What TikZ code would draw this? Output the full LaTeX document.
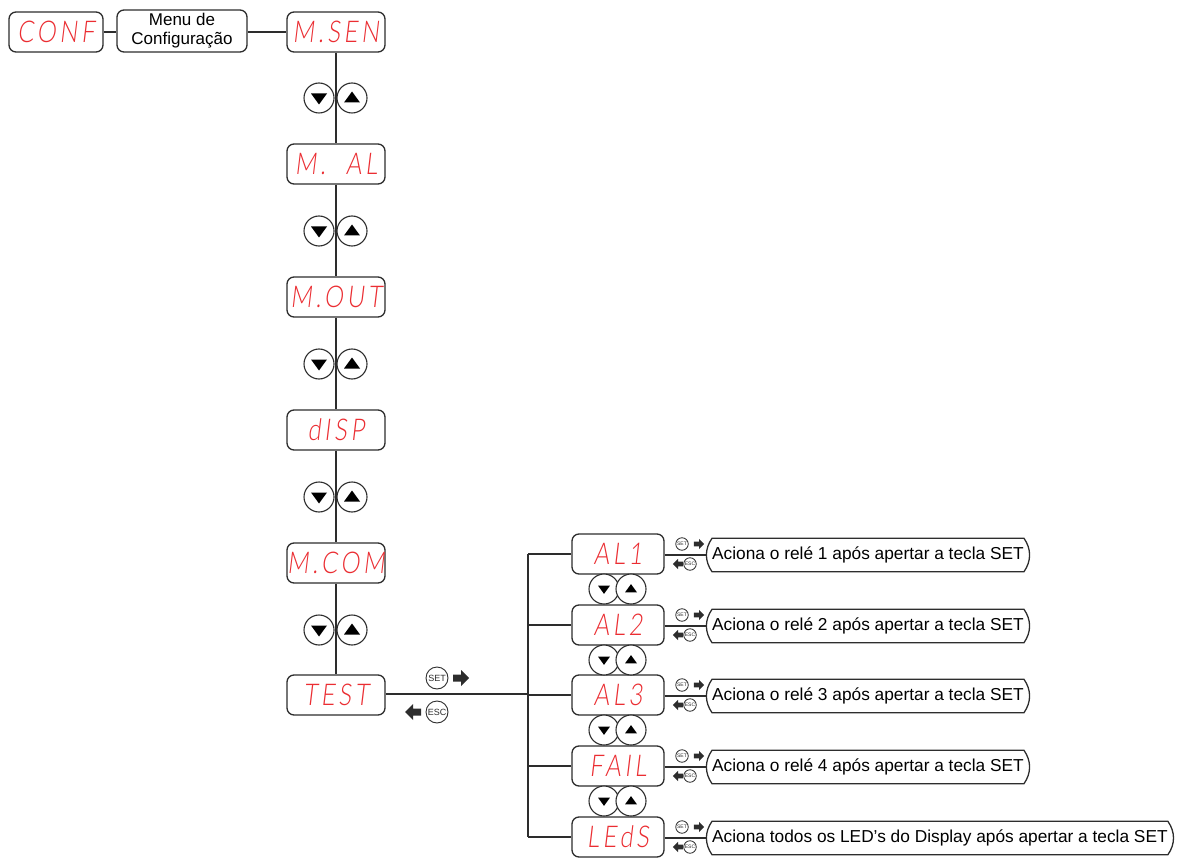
\documentclass[tikz,border=0pt]{standalone}
\usepackage{fontspec}
\setmainfont{Liberation Sans}
\newfontfamily\segfont[FakeSlant=0.12,FakeStretch=0.8,LetterSpace=12]{Lato Light}
\usetikzlibrary{calc}
\definecolor{segred}{RGB}{235,45,50}
\definecolor{ln}{RGB}{45,45,45}
\begin{document}
\begin{tikzpicture}[x=1pt,y=-1pt,
  disp/.style={draw=ln, fill=white, line width=1.3pt, rounded corners=7pt, minimum width=98pt, minimum height=40pt, inner sep=0pt, text=segred, font=\segfont\fontsize{30}{30}\selectfont},
  subdisp/.style={disp, minimum width=92pt},
  menubox/.style={draw=ln, line width=1.3pt, rounded corners=7pt, minimum width=130pt, minimum height=42pt, inner sep=0pt, align=center, font=\fontsize{17}{19}\selectfont},
  txt/.style={anchor=west, inner xsep=3pt, inner ysep=0pt, minimum height=33pt, font=\fontsize{17.3}{19}\selectfont},
  conn/.style={draw=ln, line width=1.3pt},
  btnc/.style={circle, draw=ln, fill=white, line width=1.1pt, minimum size=#1, inner sep=0pt},
  keyc/.style={circle, draw=ln, fill=white, line width=0.9pt, minimum size=#1, inner sep=0pt, text=ln},
  pics/dnbtn/.style={code={\node[btnc=30pt] (-c) {}; \fill[black] (-8,-4.5) -- (8,-4.5) -- (0,6.5) -- cycle;}},
  pics/upbtn/.style={code={\node[btnc=30pt] (-c) {}; \fill[black] (-8,4.5) -- (8,4.5) -- (0,-6.5) -- cycle;}},
  pics/blk/.style={code={\fill[ln] (-8,-3.5) -- (0,-3.5) -- (0,-8) -- (8,0) -- (0,8) -- (0,3.5) -- (-8,3.5) -- cycle;}},
]
\useasboundingbox (0,0) rectangle (1177,858);

% top row
\node[disp, minimum width=94pt] (conf) at (56,32) {CONF};
\node[menubox] (menu) at (182,31) {Menu de\\Configuração};
\node[disp] (msen) at (336,32) {M.SEN};
\coordinate (rowy) at (0,32);
\draw[conn] (conf.east |- rowy) -- (menu.west |- rowy);
\draw[conn] (menu.east |- rowy) -- (msen.west |- rowy);

% main column
\node[disp] (mal) at (336,164) {M.\hspace{20pt}AL};
\node[disp] (mout) at (336,297) {M.OUT};
\node[disp] (disp) at (336,430) {dISP};
\node[disp] (mcom) at (336,563) {M.COM};
\node[disp] (test) at (336,695) {TEST};
\draw[conn] (msen.south) -- (mal.north);
\draw[conn] (mal.south) -- (mout.north);
\draw[conn] (mout.south) -- (disp.north);
\draw[conn] (disp.south) -- (mcom.north);
\draw[conn] (mcom.south) -- (test.north);

\foreach \y/\n in {98/a,231/b,364/c,497/d,630/e}{
  \pic (dn\n) at (319,\y) {dnbtn};
  \pic (up\n) at (352,\y) {upbtn};
}

% branch
\coordinate (br) at (528,694);
\coordinate (brtop) at (528,554);
\coordinate (brbot) at (528,837);
\draw[conn] (test.east |- br) -- (br);
\draw[conn] (brtop) -- (brbot);

\node[keyc=22pt, font=\fontsize{9}{9}\selectfont] (setm) at (437,678) {SET};
\pic at (461,678) {blk};
\node[keyc=22pt, font=\fontsize{9}{9}\selectfont] (escm) at (437,712) {ESC};
\pic[rotate=180] at (413,712) {blk};

% sub column
\foreach \y/\t/\n in {554/AL1/s1, 625/AL2/s2, 695/AL3/s3, 766/FAIL/s4, 837/LEdS/s5}{
  \node[subdisp] (\n) at (618,\y) {\t};
  \draw[conn] (brtop |- \n.west) -- (\n.west);
  \coordinate (j\n) at (707,\y+1);
  \draw[conn] (\n.east |- j\n) -- (j\n);
  \node[keyc=12.5pt, line width=0.8pt, font=\fontsize{5}{5}\selectfont] (set\n) at (682,\y-10) {SET};
  \pic[scale=0.65] at (699,\y-10) {blk};
  \node[keyc=12.5pt, line width=0.8pt, font=\fontsize{5}{5}\selectfont] (esc\n) at (690,\y+10) {ESC};
  \pic[scale=0.65, rotate=180] at (678,\y+10) {blk};
}

\foreach \y/\n in {589/a,660/b,730/c,801/d}{
  \pic[scale=0.75] (sdn\n) at (604,\y) {dnbtn};
  \pic[scale=0.75] (sup\n) at (631,\y) {upbtn};
}

% text boxes
\foreach \n/\t in {s1/{Aciona o relé 1 após apertar a tecla SET}, s2/{Aciona o relé 2 após apertar a tecla SET}, s3/{Aciona o relé 3 após apertar a tecla SET}, s4/{Aciona o relé 4 após apertar a tecla SET}, s5/{Aciona todos os LED’s do Display após apertar a tecla SET}}{
  \node[txt] (t\n) at ($(j\n)+(2,0)$) {\t};
  \draw[ln, line width=1.3pt] ($(t\n.north west)+(3,0)$) -- ($(t\n.north east)+(-3,0)$)
     to[bend left=35] ($(t\n.south east)+(-3,0)$)
     -- ($(t\n.south west)+(3,0)$)
     to[bend left=35] cycle;
}
\end{tikzpicture}
\end{document}
